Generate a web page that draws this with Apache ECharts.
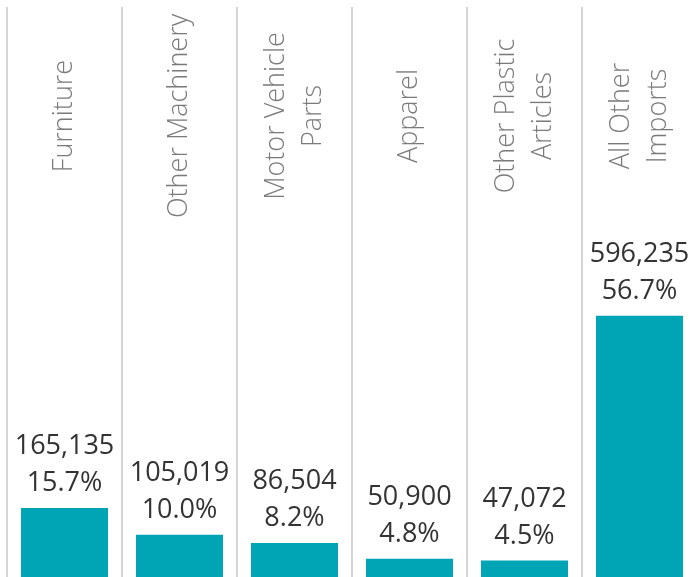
<!DOCTYPE html>
<html><head><meta charset="utf-8">
<script src="https://cdn.jsdelivr.net/npm/echarts@6/dist/echarts.min.js"></script>
<style>html,body{margin:0;padding:0;background:#fff}#c{width:693px;height:577px}</style>
</head><body><div id="c"></div>
<script>
var categories = ["Furniture", "Other Machinery", "Motor Vehicle\nParts", "Apparel", "Other Plastic\nArticles", "All Other\nImports"];
var values = [165135, 105019, 86504, 50900, 47072, 596235];
var percents = ["15.7%", "10.0%", "8.2%", "4.8%", "4.5%", "56.7%"];

var FONT = "'Open Sans', 'Noto Sans', sans-serif";
var LINE = '#d4d4d4';
var chart = echarts.init(document.getElementById('c'), null, {renderer: 'canvas'});
chart.setOption({
  animation: false,
  backgroundColor: '#ffffff',
  grid: [
    {left: 7, width: 690, top: 7, height: 218, outerBoundsMode: 'none', containLabel: false},
    {left: 7, width: 690, top: 225, height: 356.5, outerBoundsMode: 'none', containLabel: false}
  ],
  xAxis: [
    {gridIndex: 0, type: 'category', data: categories, position: 'bottom',
     axisLine: {show: false}, axisTick: {show: false}, axisLabel: {show: false, interval: 0},
     splitLine: {show: true, interval: 0, lineStyle: {color: LINE, width: 2}}},
    {gridIndex: 1, type: 'category', data: categories, position: 'top',
     axisLine: {show: true, lineStyle: {color: LINE, width: 2}},
     axisTick: {show: false},
     splitLine: {show: true, interval: 0, lineStyle: {color: LINE, width: 2}},
     axisLabel: {show: true, rotate: 90, margin: 109, align: 'center', verticalAlign: 'middle', hideOverlap: false,
       fontFamily: FONT, fontSize: 27, fontWeight: 300, color: '#7a7a7a', lineHeight: 37, interval: 0}}
  ],
  yAxis: [
    {gridIndex: 0, type: 'value', show: false},
    {gridIndex: 1, type: 'value', show: false, min: 0, max: 800000}
  ],
  series: [{
    type: 'bar', xAxisIndex: 1, yAxisIndex: 1, data: values, barWidth: 87,
    itemStyle: {color: '#00a5b5'},
    label: {show: true, position: 'top', distance: 6, fontFamily: FONT, fontSize: 27, color: '#333333', lineHeight: 37,
      formatter: function (p) { return p.value.toLocaleString('en-US') + '\n' + percents[p.dataIndex]; }}
  }]
});
</script></body></html>
